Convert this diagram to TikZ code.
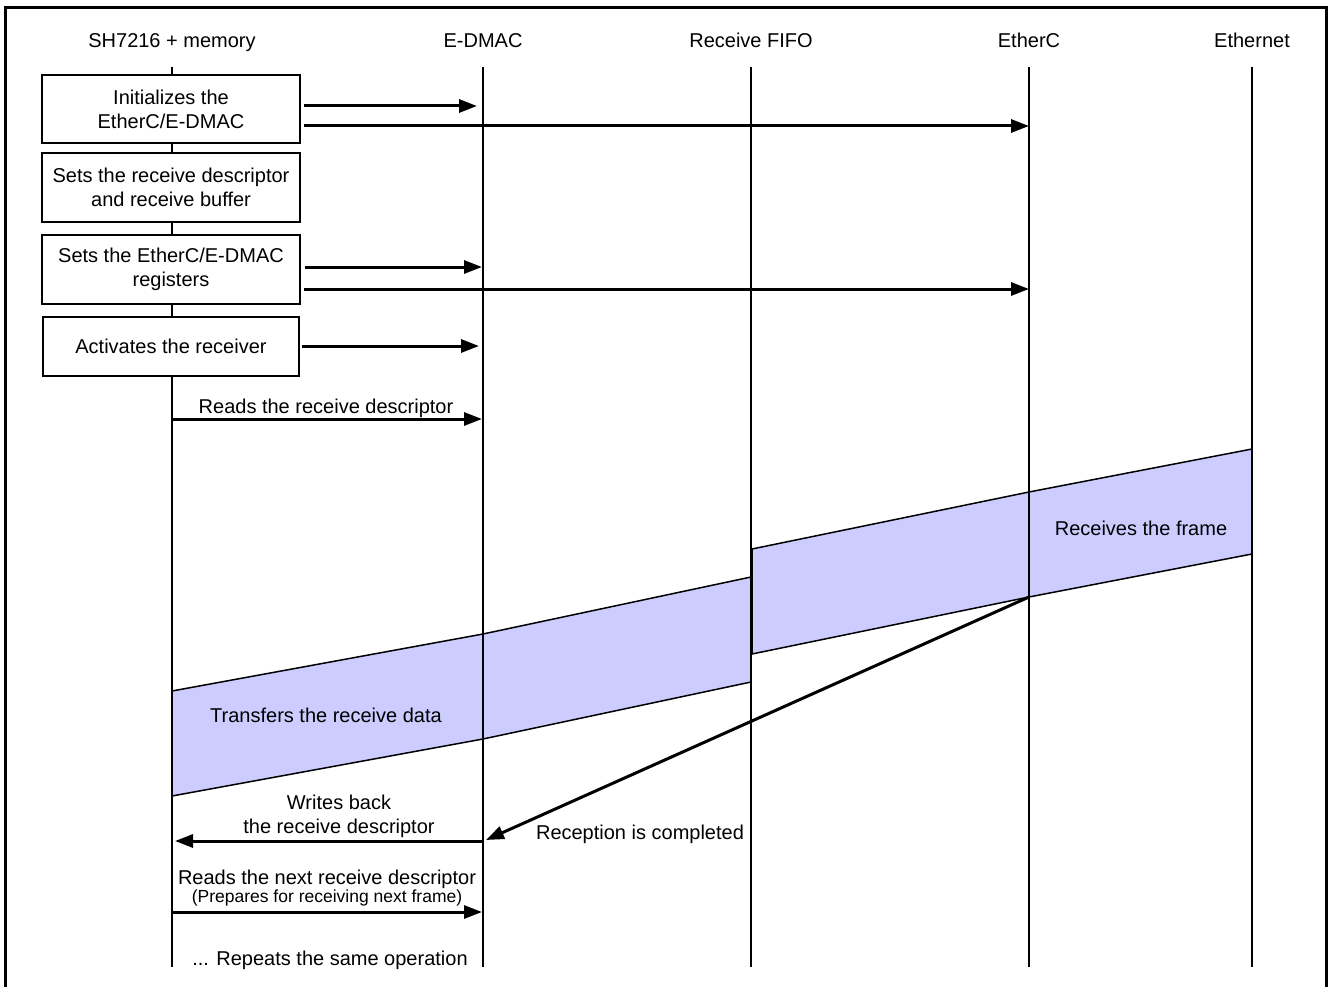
\documentclass[tikz,border=0pt]{standalone}
\usepackage{fontspec}
\setmainfont{Liberation Sans}
\usetikzlibrary{arrows.meta}
\definecolor{bandfill}{RGB}{204,204,255}
\begin{document}
\begin{tikzpicture}[x=1pt,y=-1pt,
  every node/.style={font=\fontsize{20}{24}\selectfont, inner sep=0pt},
  life/.style={line width=2pt},
  stepbox/.style={draw, line width=1.2pt, fill=white, minimum width=258pt, align=center},
  msg/.style={line width=3pt, -{Triangle[length=18pt,width=13pt]}},
  band/.style={fill=bandfill, draw, line width=1.5pt, line join=miter},
  lbl/.style={anchor=base, align=center},
  small/.style={font=\fontsize{17.5}{20}\selectfont}]
\useasboundingbox (0,0) rectangle (1328,987);
% outer frame
\draw[line width=3pt] (5,8) rectangle (1326,1000);

% lifeline headers
\node[anchor=base] (hsh) at (172,48) {SH7216 + memory};
\node[anchor=base] (hdm) at (483,48) {E-DMAC};
\node[anchor=base] (hff) at (751,48) {Receive FIFO};
\node[anchor=base] (hec) at (1029,48) {EtherC};
\node[anchor=base] (het) at (1252,48) {Ethernet};
\coordinate (top) at (0,67);
\coordinate (bot) at (0,967);

% frame data flowing from the wire down to memory
\draw[band] (1252,449) -- (1029,492) -- (1029,597) -- (1252,554) -- cycle;
\draw[band] (1029,492) -- (752,549) -- (752,654) -- (1029,597) -- cycle;
\draw[band] (751,577) -- (483,634) -- (483,739) -- (751,682) -- cycle;
\draw[band] (483,634) -- (172,691) -- (172,796) -- (483,739) -- cycle;
\node[anchor=base] (rxf) at (1141,535) {Receives the frame};
\node[anchor=base] (txd) at (326,722) {Transfers the receive data};

% lifelines
\draw[life] (hsh |- top) -- (hsh |- bot);
\draw[life] (hdm |- top) -- (hdm |- bot);
\draw[life] (hff |- top) -- (hff |- bot);
\draw[life] (hec |- top) -- (hec |- bot);
\draw[life] (het |- top) -- (het |- bot);

% software steps
\node[stepbox, minimum height=68pt] (b1) at (171,109) {Initializes the\\EtherC/E-DMAC};
\node[stepbox, minimum height=69pt] (b2) at (171,187.5) {Sets the receive descriptor\\and receive buffer};
\node[stepbox, minimum height=69pt] (b3) at (171,269.5) {Sets the EtherC/E-DMAC\\registers};
\node[stepbox, minimum height=59pt, minimum width=256pt] (b4) at (171,346.5) {Activates the receiver};

% register accesses
\coordinate (a1) at (477,106);
\coordinate (a2) at (1029,126);
\coordinate (a3) at (482,267);
\coordinate (a4) at (1029,289);
\coordinate (a5) at (479,346);
\draw[msg, shorten <=3pt] (b1.east |- a1) -- (a1);
\draw[msg, shorten <=3pt] (b1.east |- a2) -- (a2);
\draw[msg, shorten <=4pt] (b3.east |- a3) -- (a3);
\draw[msg, shorten <=3pt] (b3.east |- a4) -- (a4);
\draw[msg, shorten <=2pt] (b4.east |- a5) -- (a5);

% descriptor handling
\coordinate (r1s) at (172,419);
\coordinate (r1e) at (482,419);
\draw[msg] (r1s) -- (r1e);
\node[lbl] (r1l) at (326,413) {Reads the receive descriptor};

\coordinate (cs) at (1029,597);
\coordinate (ce) at (486,840);
\draw[msg] (cs) -- (ce);
\node[lbl] (cl) at (640,839) {Reception is completed};

\coordinate (wbs) at (483,841);
\coordinate (wbe) at (175,841);
\draw[msg] (wbs) -- (wbe);
\node[lbl] (wbl1) at (339,809) {Writes back};
\node[lbl] (wbl2) at (339,833) {the receive descriptor};

\coordinate (nxs) at (172,912);
\coordinate (nxe) at (482,912);
\draw[msg] (nxs) -- (nxe);
\node[lbl] (nxl1) at (327,884) {Reads the next receive descriptor};
\node[lbl, small] (nxl2) at (327,902) {(Prepares for receiving next frame)};

\node[lbl] (rep) at (330,965) {... Repeats the same operation};
\end{tikzpicture}
\end{document}
